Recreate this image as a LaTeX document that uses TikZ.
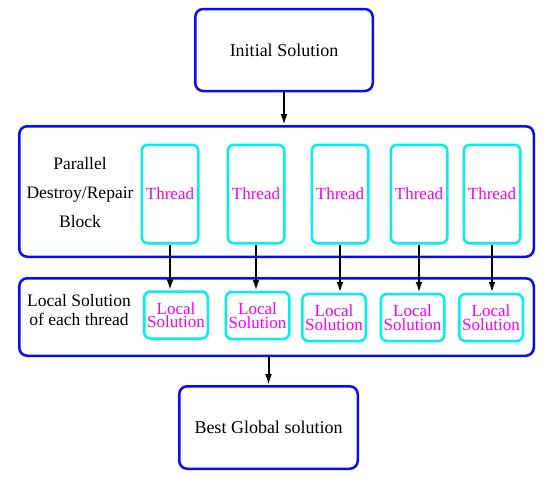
\documentclass[tikz,border=0pt]{standalone}
\usepackage{fontspec}
\setmainfont{Liberation Serif}
\usetikzlibrary{positioning, arrows.meta}
\definecolor{stageblue}{RGB}{10,10,245}
\definecolor{threadcyan}{RGB}{0,240,240}
\definecolor{threadtext}{RGB}{245,0,245}

\begin{document}
\begin{tikzpicture}[
  x=1pt, y=-1pt,
  stage/.style={draw=stageblue, line width=2.5pt, rounded corners=8pt, align=center, minimum width=177.5pt, minimum height=82pt, font=\fontsize{18}{21}\selectfont},
  block/.style={draw=stageblue, line width=2.5pt, rounded corners=8pt, minimum width=514.5pt},
  threadbox/.style={draw=threadcyan, line width=2.5pt, rounded corners=6pt, minimum width=56.5pt, minimum height=98.5pt, inner sep=0pt, text=threadtext, font=\fontsize{17}{20}\selectfont},
  localbox/.style={threadbox, minimum width=63.5pt, minimum height=47pt, align=center, font=\fontsize{17}{13.5}\selectfont},
  blocklabel/.style={align=center, inner sep=0pt},
  every edge/.style={draw, line width=2pt, -{Latex[length=11pt, width=7pt]}}
]
\useasboundingbox (0,0) rectangle (550,477);

\node[stage] (init) at (284,50) {Initial Solution};

\node[block, minimum height=130.5pt] (par) at (276.5,191.5) {};
\node[blocklabel, font=\fontsize{17.5}{29}\selectfont] (parlbl) at (80,193) {Parallel\\Destroy/Repair\\Block};
\node[threadbox] (t1) at (170,194) {Thread};
\node[threadbox] (t2) at (256,194) {Thread};
\node[threadbox] (t3) at (340,194) {Thread};
\node[threadbox] (t4) at (419,194) {Thread};
\node[threadbox] (t5) at (492,194) {Thread};

\node[block, minimum height=77.5pt] (loc) at (276.5,317) {};
\node[blocklabel, font=\fontsize{17.5}{19}\selectfont] (loclbl) at (79,310) {Local Solution\\of each thread};
\node[localbox] (l1) at (176,315) {Local\\Solution};
\node[localbox] (l2) at (257.5,315.5) {Local\\Solution};
\node[localbox] (l3) at (334,317.5) {Local\\Solution};
\node[localbox] (l4) at (412.5,317.5) {Local\\Solution};
\node[localbox] (l5) at (491,317.5) {Local\\Solution};

\node[stage, minimum width=178.5pt, minimum height=82.5pt] (best) at (268.5,427.5) {Best Global solution};

\draw (init) edge (init.south |- par.north);

\draw (t1) edge (t1.south |- l1.north);
\draw (t2) edge (t2.south |- l2.north);
\draw (t3) edge (t3.south |- l3.north);
\draw (t4) edge (t4.south |- l4.north);
\draw (t5) edge (t5.south |- l5.north);

\draw (best.north |- loc.south) edge (best);
\end{tikzpicture}
\end{document}
